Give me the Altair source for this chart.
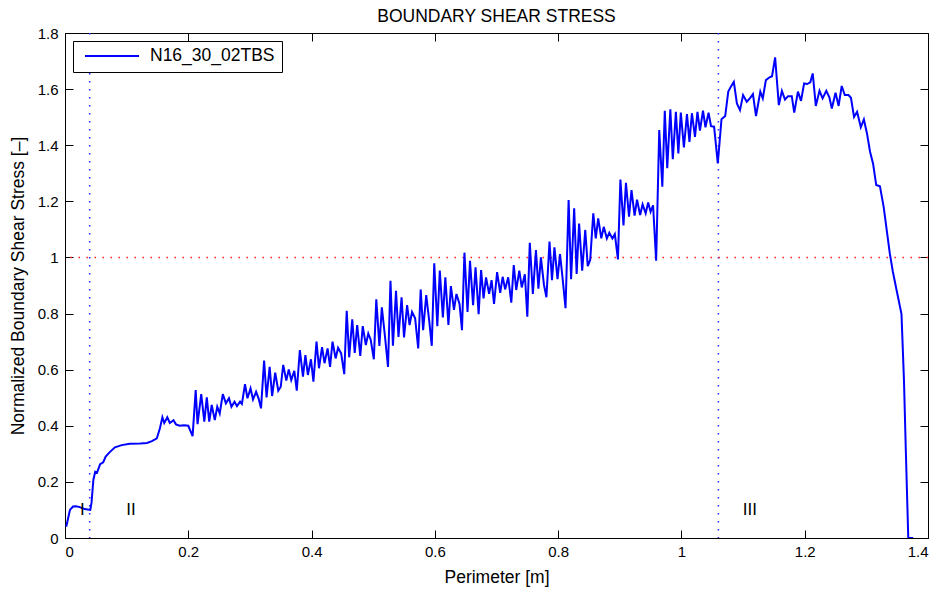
import altair as alt
import pandas as pd

FONT = "Liberation Sans"

# Normalized boundary shear stress along the wetted perimeter
perimeter = [
    0.002, 0.008, 0.013, 0.018, 0.024, 0.032, 0.041, 0.043, 0.046, 0.049,
    0.052, 0.057, 0.062, 0.066, 0.073, 0.081, 0.092, 0.105, 0.122, 0.133,
    0.141, 0.149, 0.154, 0.158, 0.161, 0.166, 0.170, 0.176, 0.180, 0.186,
    0.193, 0.200, 0.207,
    0.212, 0.215, 0.221, 0.226, 0.230, 0.234, 0.238, 0.243, 0.247, 0.251,
    0.256, 0.261, 0.266, 0.270, 0.275, 0.279, 0.284, 0.287, 0.292, 0.296,
    0.301, 0.305, 0.310, 0.314, 0.318, 0.323, 0.327, 0.332, 0.336, 0.341,
    0.346, 0.350, 0.354, 0.359, 0.363, 0.367, 0.372, 0.376, 0.381, 0.386,
    0.390, 0.394, 0.399, 0.403, 0.408, 0.412, 0.417, 0.421, 0.426, 0.430,
    0.434, 0.439, 0.443, 0.448, 0.453, 0.457, 0.461, 0.466, 0.470, 0.474,
    0.479, 0.483, 0.488, 0.492, 0.496, 0.501, 0.505, 0.510, 0.514, 0.519,
    0.524, 0.528, 0.532, 0.537, 0.541, 0.546, 0.550, 0.555, 0.559, 0.563,
    0.568, 0.573, 0.577, 0.581, 0.586, 0.591, 0.595, 0.599, 0.604, 0.608,
    0.613, 0.617, 0.622, 0.626, 0.631, 0.635, 0.640, 0.644, 0.648, 0.653,
    0.657, 0.662, 0.666, 0.671, 0.675, 0.679, 0.683, 0.688, 0.692, 0.696,
    0.701, 0.706, 0.710, 0.714, 0.719, 0.724, 0.728, 0.732, 0.737, 0.741,
    0.746, 0.750, 0.754, 0.759, 0.764, 0.768, 0.772, 0.777, 0.781, 0.786,
    0.790, 0.794, 0.799, 0.803, 0.807, 0.812, 0.817, 0.821, 0.826, 0.830,
    0.834, 0.839, 0.844, 0.848, 0.852, 0.857, 0.861, 0.865, 0.870, 0.874,
    0.879, 0.883, 0.888, 0.892, 0.897, 0.901, 0.906, 0.910, 0.915, 0.919,
    0.924, 0.928, 0.933, 0.937, 0.942, 0.946, 0.950, 0.954, 0.959, 0.964,
    0.969, 0.973, 0.977, 0.982, 0.986, 0.991, 0.995, 0.999, 1.004, 1.009,
    1.013, 1.017, 1.022, 1.026, 1.030, 1.035, 1.039, 1.044, 1.048, 1.053,
    1.059, 1.065, 1.071, 1.076, 1.080, 1.085, 1.090, 1.095, 1.100, 1.106,
    1.111, 1.116, 1.121, 1.128, 1.132, 1.137, 1.143, 1.147, 1.152, 1.158,
    1.163, 1.168, 1.173, 1.179, 1.183, 1.189, 1.194, 1.199, 1.204, 1.209,
    1.213, 1.218, 1.224, 1.229, 1.235, 1.240, 1.244, 1.250, 1.255, 1.260,
    1.265, 1.271, 1.275, 1.280, 1.285, 1.291, 1.296, 1.301, 1.306, 1.311,
    1.316, 1.322, 1.328, 1.333, 1.338, 1.343, 1.349, 1.357, 1.361, 1.364,
    1.368, 1.376,
]
stress = [
    0.040, 0.100, 0.112, 0.113, 0.110, 0.103, 0.100, 0.125, 0.207, 0.236,
    0.233, 0.263, 0.270, 0.290, 0.307, 0.323, 0.331, 0.336, 0.337, 0.339,
    0.345, 0.355, 0.391, 0.430, 0.410, 0.430, 0.410, 0.420, 0.405, 0.400,
    0.402, 0.400, 0.363,
    0.527, 0.406, 0.513, 0.415, 0.501, 0.415, 0.474, 0.420, 0.468, 0.444,
    0.513, 0.480, 0.498, 0.468, 0.486, 0.470, 0.486, 0.478, 0.548, 0.498,
    0.533, 0.494, 0.521, 0.498, 0.462, 0.632, 0.501, 0.610, 0.506, 0.589,
    0.525, 0.539, 0.617, 0.561, 0.601, 0.563, 0.596, 0.525, 0.670, 0.575,
    0.652, 0.581, 0.637, 0.557, 0.700, 0.605, 0.680, 0.623, 0.676, 0.610,
    0.700, 0.640, 0.678, 0.658, 0.584, 0.810, 0.644, 0.779, 0.660, 0.759,
    0.649, 0.755, 0.688, 0.729, 0.706, 0.637, 0.851, 0.685, 0.822, 0.720,
    0.610, 0.917, 0.685, 0.881, 0.717, 0.858, 0.715, 0.830, 0.759, 0.806,
    0.783, 0.676, 0.886, 0.741, 0.866, 0.771, 0.685, 0.979, 0.755, 0.953,
    0.786, 0.929, 0.759, 0.898, 0.813, 0.870, 0.834, 0.741, 1.017, 0.806,
    0.988, 0.830, 0.965, 0.798, 0.955, 0.854, 0.929, 0.870, 0.919, 0.834,
    0.948, 0.874, 0.931, 0.886, 0.929, 0.839, 0.973, 0.884, 0.953, 0.893,
    0.940, 0.789, 1.052, 0.870, 1.026, 0.889, 1.000, 0.902, 0.858, 1.057,
    0.919, 1.036, 0.923, 1.012, 0.931, 0.819, 1.205, 0.922, 1.175, 0.941,
    1.121, 0.953, 1.098, 0.969, 0.991, 1.157, 1.068, 1.139, 1.068, 1.109,
    1.068, 1.088, 1.068, 1.083, 0.993, 1.278, 1.114, 1.266, 1.145, 1.240,
    1.149, 1.206, 1.151, 1.189, 1.157, 1.196, 1.163, 1.186, 0.988, 1.454,
    1.252, 1.523, 1.318, 1.528, 1.350, 1.519, 1.371, 1.516, 1.392, 1.511,
    1.412, 1.514, 1.430, 1.519, 1.452, 1.523, 1.464, 1.516, 1.468, 1.466,
    1.335, 1.493, 1.504, 1.591, 1.608, 1.626, 1.549, 1.525, 1.579, 1.555,
    1.567, 1.582, 1.504, 1.591, 1.567, 1.632, 1.642, 1.646, 1.713, 1.543,
    1.594, 1.563, 1.575, 1.575, 1.516, 1.591, 1.558, 1.620, 1.618, 1.624,
    1.656, 1.540, 1.594, 1.567, 1.594, 1.571, 1.531, 1.587, 1.540, 1.611,
    1.579, 1.579, 1.569, 1.501, 1.519, 1.464, 1.492, 1.442, 1.377, 1.333,
    1.258, 1.254, 1.181, 1.098, 1.015, 0.949, 0.884, 0.798, 0.563, 0.314,
    0.000, 0.000,
]
series_name = "N16_30_02TBS"

# Region boundaries, reference level and region names
region_bounds = [0.04, 1.06]
reference_level = [1.0]
region_labels = ["I", "II", "III"]
region_label_x = [0.028, 0.107, 1.111]
region_label_y = [0.10, 0.10, 0.10]

x_ticks = [0, 0.2, 0.4, 0.6, 0.8, 1.0, 1.2, 1.4]
y_ticks = [0, 0.2, 0.4, 0.6, 0.8, 1.0, 1.2, 1.4, 1.6, 1.8]

df = pd.DataFrame({"perimeter": perimeter, "stress": stress, "series": series_name})
bounds_df = pd.DataFrame({"x": region_bounds})
ref_df = pd.DataFrame({"y": reference_level})
labels_df = pd.DataFrame({"x": region_label_x, "y": region_label_y, "label": region_labels})

x_scale = alt.Scale(domain=[0, 1.4], nice=False, zero=False)
y_scale = alt.Scale(domain=[0, 1.8], nice=False, zero=False)

TICK = 8

x_axis = alt.Axis(
    orient="bottom", values=x_ticks, format="~g", title="Perimeter [m]",
    offset=-TICK, tickSize=TICK, domain=False, grid=False,
    labelPadding=6, titlePadding=9,
)
y_axis = alt.Axis(
    orient="left", values=y_ticks, format="~g",
    title="Normalized Boundary Shear Stress [–]",
    offset=-TICK, tickSize=TICK, domain=False, grid=False,
    labelPadding=7, titlePadding=10,
)
x_axis_top = alt.Axis(
    orient="top", values=x_ticks, labels=False, title=None,
    offset=-TICK, tickSize=TICK, domain=False, grid=False,
)
y_axis_right = alt.Axis(
    orient="right", values=y_ticks, labels=False, title=None,
    offset=-TICK, tickSize=TICK, domain=False, grid=False,
)

line = alt.Chart(df).mark_line(strokeWidth=2, clip=True).encode(
    x=alt.X("perimeter:Q", scale=x_scale, axis=x_axis),
    y=alt.Y("stress:Q", scale=y_scale, axis=y_axis),
    color=alt.Color(
        "series:N",
        scale=alt.Scale(range=["#0000ff"]),
        legend=alt.Legend(
            orient="top-left", offset=8, title=None,
            strokeColor="black", fillColor="white", padding=7,
            labelFont=FONT, labelFontSize=17.5, labelColor="black",
            symbolType="stroke", symbolStrokeWidth=2, symbolSize=2916,
            symbolOffset=4, labelOffset=10, clipHeight=16,
        ),
    ),
)

# Dotted region boundaries and the unit reference level
bounds = alt.Chart(bounds_df).mark_rule(
    stroke="#2a2aff", strokeWidth=1.5, strokeDash=[1.5, 6.5], strokeCap="butt"
).encode(x=alt.X("x:Q", scale=x_scale, axis=None))

ref = alt.Chart(ref_df).mark_rule(
    stroke="#ff2020", strokeWidth=1.5, strokeDash=[1.5, 6.5], strokeCap="butt"
).encode(y=alt.Y("y:Q", scale=y_scale, axis=None))

names = alt.Chart(labels_df).mark_text(
    font=FONT, fontSize=17, color="black", align="center", baseline="middle"
).encode(
    x=alt.X("x:Q", scale=x_scale, axis=x_axis_top),
    y=alt.Y("y:Q", scale=y_scale, axis=y_axis_right),
    text="label:N",
)

chart = (
    alt.layer(bounds, ref, line, names)
    .resolve_axis(x="independent", y="independent")
    .properties(
        width=863,
        height=505,
        padding={"left": 65, "top": 33, "right": 16, "bottom": 54},
        autosize=alt.AutoSizeParams(type="none"),
        title=alt.TitleParams(
            "BOUNDARY SHEAR STRESS", font=FONT, fontSize=17.5,
            fontWeight="normal", anchor="middle", offset=1, color="black",
        ),
        background="white",
    )
    .configure_view(stroke="black", strokeWidth=1)
    .configure_axis(
        labelFont=FONT, labelFontSize=15, labelColor="black",
        titleFont=FONT, titleFontSize=17.5, titleFontWeight="normal",
        titleColor="black", tickColor="black", tickWidth=1,
    )
)

chart.save("out.html", embed_options={"renderer": "svg", "actions": False})
